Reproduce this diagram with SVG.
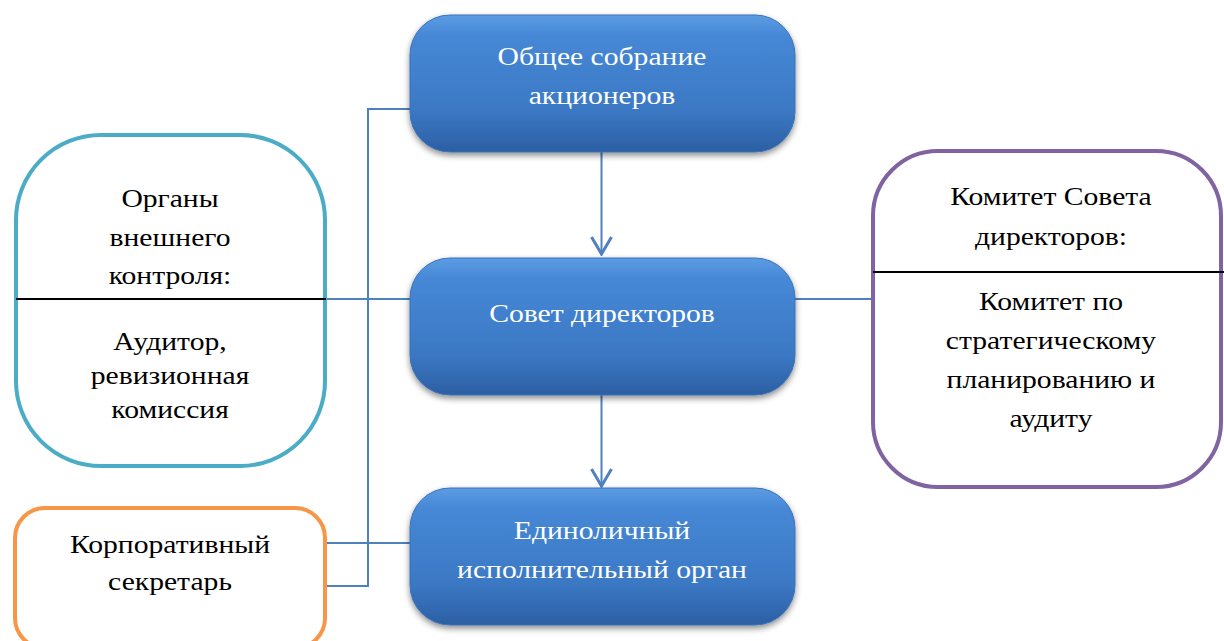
<svg xmlns="http://www.w3.org/2000/svg" width="1224" height="641" viewBox="0 0 1224 641">
<defs>
<linearGradient id="blueGrad" x1="0" y1="0" x2="0" y2="1">
<stop offset="0" stop-color="#5C9CE3"/>
<stop offset="0.15" stop-color="#4688D6"/>
<stop offset="0.7" stop-color="#3B78C4"/>
<stop offset="1" stop-color="#2C5FA3"/>
</linearGradient>
<filter id="shadow" x="-10%" y="-10%" width="120%" height="130%">
<feDropShadow dx="0" dy="3" stdDeviation="3" flood-color="#000" flood-opacity="0.45"/>
</filter>
<marker id="arrow" viewBox="0 0 20 24" refX="18" refY="12" markerWidth="20" markerHeight="24" markerUnits="userSpaceOnUse" orient="auto">
<path d="M1,2 L18,12 L1,22" fill="none" stroke="#4F81BD" stroke-width="3"/>
</marker>
</defs>
<style>
.blue{fill:url(#blueGrad);stroke:#3A72B8;stroke-width:1;filter:url(#shadow)}
.wt{font-family:'Liberation Serif','DejaVu Serif',serif;font-size:26px;fill:#fff;text-anchor:middle}
.bt{font-family:'Liberation Serif','DejaVu Serif',serif;font-size:26px;fill:#000;text-anchor:middle}
.conn{stroke:#4F81BD;stroke-width:2;fill:none}
.div{stroke:#000;stroke-width:2}
</style>
<rect width="1224" height="641" fill="#fff"/>
<g id="connectors">
<polyline class="conn" points="410,109 368,109 368,586 327,586"/>
<line class="conn" x1="327" y1="299" x2="410" y2="299"/>
<line class="conn" x1="327" y1="543" x2="415" y2="543"/>
<line class="conn" x1="795" y1="299" x2="872" y2="299"/>
<line class="conn" x1="601.5" y1="152" x2="601.5" y2="254" stroke-width="3" marker-end="url(#arrow)"/>
<line class="conn" x1="601.5" y1="395" x2="601.5" y2="486" stroke-width="3" marker-end="url(#arrow)"/>
</g>
<g id="node-shareholders">
<rect class="blue" x="410" y="15" width="385" height="137" rx="40"/>
<text class="wt" transform="translate(602,65) scale(1.14,1)">Общее собрание</text>
<text class="wt" transform="translate(602,104) scale(1.14,1)">акционеров</text>
</g>
<g id="node-board">
<rect class="blue" x="410" y="258" width="385" height="137" rx="40"/>
<text class="wt" transform="translate(602,322) scale(1.14,1)">Совет директоров</text>
</g>
<g id="node-executive">
<rect class="blue" x="410" y="488" width="385" height="137" rx="40"/>
<text class="wt" transform="translate(602,539) scale(1.14,1)">Единоличный</text>
<text class="wt" transform="translate(602,578) scale(1.14,1)">исполнительный орган</text>
</g>
<g id="node-external">
<rect x="16" y="135" width="309" height="331" rx="85" fill="#fff" stroke="#4BACC6" stroke-width="4"/>
<line class="div" x1="16" y1="299" x2="326" y2="299"/>
<text class="bt" transform="translate(170,207) scale(1.14,1)">Органы</text>
<text class="bt" transform="translate(170,246) scale(1.14,1)">внешнего</text>
<text class="bt" transform="translate(170,284) scale(1.14,1)">контроля:</text>
<text class="bt" transform="translate(170,350) scale(1.14,1)">Аудитор,</text>
<text class="bt" transform="translate(170,384) scale(1.14,1)">ревизионная</text>
<text class="bt" transform="translate(170,418) scale(1.14,1)">комиссия</text>
</g>
<g id="node-secretary">
<rect x="15" y="508" width="310" height="140" rx="30" fill="#fff" stroke="#F79646" stroke-width="4"/>
<text class="bt" transform="translate(170,553) scale(1.14,1)">Корпоративный</text>
<text class="bt" transform="translate(170,590) scale(1.14,1)">секретарь</text>
</g>
<g id="node-committee">
<rect x="873" y="151" width="348" height="336" rx="65" fill="#fff" stroke="#8064A2" stroke-width="4"/>
<line class="div" x1="873" y1="272" x2="1224" y2="272"/>
<text class="bt" transform="translate(1051,205) scale(1.14,1)">Комитет Совета</text>
<text class="bt" transform="translate(1051,245) scale(1.14,1)">директоров:</text>
<text class="bt" transform="translate(1051,310) scale(1.14,1)">Комитет по</text>
<text class="bt" transform="translate(1051,349) scale(1.14,1)">стратегическому</text>
<text class="bt" transform="translate(1051,388) scale(1.14,1)">планированию и</text>
<text class="bt" transform="translate(1051,427) scale(1.14,1)">аудиту</text>
</g>
</svg>
